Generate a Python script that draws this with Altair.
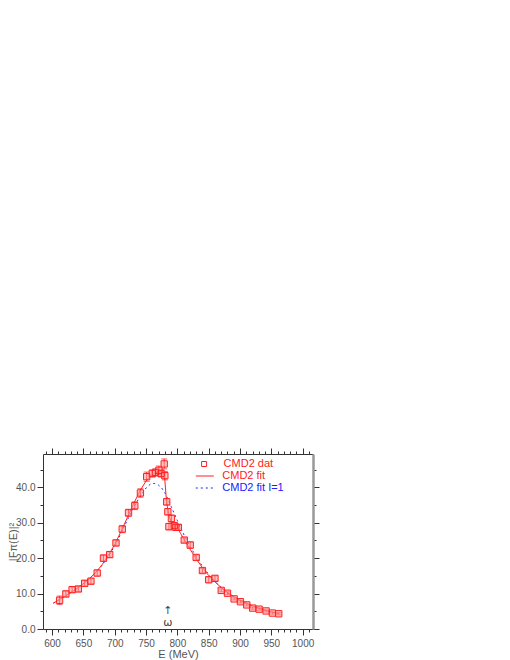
import altair as alt
import pandas as pd

# ---- data ----
E_dat = [612, 622, 632, 642, 652, 662, 672, 682, 692, 702, 712, 722, 732, 741, 751,
         760, 765, 770.5, 774, 779, 780, 783, 784.8, 786.5, 790.5, 795, 797.6, 801.5,
         811, 820.5, 830, 840, 850, 860, 870, 880, 890.6, 900.7, 910.8, 920.3, 930.4,
         941.6, 951.7, 961.8]
F_dat = [8.1, 9.9, 11.1, 11.3, 12.9, 13.5, 15.8, 20.0, 21.0, 24.3, 28.2, 32.8, 34.8,
         38.4, 43.0, 43.9, 44.2, 44.8, 43.9, 46.6, 43.3, 35.9, 33.1, 28.9, 31.2, 29.2,
         28.7, 28.7, 25.1, 23.7, 20.2, 16.5, 13.9, 14.3, 10.9, 10.1, 8.5, 7.7, 6.8, 5.9,
         5.6, 5.1, 4.5, 4.3]
F_err = [1.2, 0.8, 0.8, 0.7, 0.8, 0.7, 0.8, 0.9, 0.8, 0.8, 1.0, 1.0, 1.1, 1.2, 1.3,
         1.0, 1.0, 1.2, 1.0, 1.4, 1.2, 0.9, 0.9, 0.9, 1.0, 0.8, 0.7, 0.8, 0.6, 0.9,
         0.7, 0.6, 0.8, 0.7, 0.4, 0.4, 0.3, 0.3, 0.3, 0.3, 0.3, 0.3, 0.3, 0.3]

E_fit = [602, 610, 620, 630, 640, 650, 660, 670, 680, 690, 700, 710, 720, 730, 740,
         750, 757, 764, 770, 775, 778, 780, 782, 784, 787, 790, 795, 800, 805, 810,
         820, 830, 840, 850, 860, 870, 880, 890, 900, 910, 920, 930, 940, 950, 962]
F_fit = [7.3, 8.1, 9.2, 10.3, 11.5, 12.8, 14.3, 16.0, 18.2, 20.8, 23.9, 27.5, 31.4,
         35.3, 38.9, 41.8, 43.2, 44.0, 44.4, 44.5, 44.0, 42.0, 37.5, 34.5, 31.8, 30.3,
         29.3, 28.5, 27.0, 25.5, 22.6, 19.8, 17.3, 15.1, 13.3, 11.7, 10.3, 9.1, 8.1,
         7.3, 6.5, 5.9, 5.3, 4.8, 4.3]
E_iso = [602, 620, 640, 660, 680, 700, 720, 730, 740, 750, 757, 763, 770, 775, 780,
         785, 790, 795, 800, 810, 820, 830, 840, 850, 860, 870, 880, 890, 900, 910,
         920, 930, 940, 950, 962]
F_iso = [7.3, 9.2, 11.4, 14.2, 18.0, 23.4, 30.7, 34.2, 37.3, 39.8, 40.9, 41.1, 40.6,
         39.8, 38.5, 36.6, 34.6, 32.6, 30.6, 26.8, 23.4, 20.4, 17.7, 15.4, 13.4, 11.7,
         10.3, 9.1, 8.1, 7.3, 6.5, 5.9, 5.3, 4.8, 4.3]

series_names = ["CMD2 dat", "CMD2 fit", "CMD2 fit I=1"]
annot_E = [785, 785]
annot_F = [5.2, 1.8]
annot_txt = ["\u2191", "\u03c9"]

x_ticks = list(range(590, 1011, 10))
y_ticks = list(range(0, 50, 5))

RED = "#ff2020"
BLUE = "#2020ff"
GREY = "#555555"
FONT = "Liberation Sans Narrow, Liberation Sans, sans-serif"

dat = pd.DataFrame({"E": E_dat, "F": F_dat,
                    "lo": [f - e for f, e in zip(F_dat, F_err)],
                    "hi": [f + e for f, e in zip(F_dat, F_err)],
                    "series": series_names[0]})
fit = pd.DataFrame({"E": E_fit, "F": F_fit, "series": series_names[1]})
iso = pd.DataFrame({"E": E_iso, "F": F_iso, "series2": series_names[2]})
annot = pd.DataFrame({"E": annot_E, "F": annot_F, "t": annot_txt})

xs = alt.Scale(domain=[585.5, 1016.5], nice=False, zero=False)
ys = alt.Scale(domain=[0, 49.4], nice=False, zero=False)

tick_x = {"condition": {"test": "datum.value % 50 == 0", "value": 6}, "value": 3}
tick_y = {"condition": {"test": "datum.value % 10 == 0", "value": 6}, "value": 3}

common = dict(domainColor="#333333", tickColor="#333333", grid=False,
              labelFont=FONT, labelFontSize=10, labelColor=GREY,
              titleFont=FONT, titleFontSize=11, titleColor=GREY, labelOverlap=False,
              titleFontWeight="normal")

ax_bottom = alt.Axis(orient="bottom", values=x_ticks, tickSize=tick_x,
                     labelExpr="datum.value % 50 == 0 ? datum.label : ''",
                     format="d", title="E  (MeV)", labelPadding=3, titlePadding=0,
                     **common)
ax_left = alt.Axis(orient="left", values=y_ticks, tickSize=tick_y,
                   labelExpr="datum.value % 10 == 0 ? datum.label : ''",
                   format=".1f", title="|F\u03c0(E)|\u00b2", labelPadding=2,
                   titleX=-30, titleBaseline="middle", **common)
ax_top = alt.Axis(orient="top", values=x_ticks, tickSize=tick_x, labels=False,
                  title=None, domainColor="#333333", tickColor="#333333", grid=False)
ax_right = alt.Axis(orient="right", values=y_ticks, tickSize=tick_y, labels=False,
                    title=None, domainColor="#999999", domainWidth=2.5,
                    tickColor="#333333", grid=False)

leg_common = dict(orient="none", title=None, symbolType="stroke", symbolSize=324,
                  symbolStrokeWidth=1, labelFont=FONT, labelFontSize=11,
                  labelOffset=8, padding=0)

# CMD2 fit (carries the top/right axes)
fit_line = alt.Chart(fit).mark_line(strokeWidth=1).encode(
    x=alt.X("E:Q", scale=xs, axis=ax_top),
    y=alt.Y("F:Q", scale=ys, axis=ax_right),
    color=alt.Color("series:N", scale=alt.Scale(domain=series_names[1:2], range=[RED]),
                    legend=alt.Legend(legendX=152.3, legendY=12.5, labelColor=RED,
                                      **leg_common)),
)

# CMD2 fit I=1
iso_line = alt.Chart(iso).mark_line(strokeWidth=1, color=BLUE).encode(
    x=alt.X("E:Q", scale=xs, axis=None),
    y=alt.Y("F:Q", scale=ys, axis=None),
    strokeDash=alt.StrokeDash("series2:N", scale=alt.Scale(domain=series_names[2:],
                                                           range=[[2, 3]]),
                              legend=alt.Legend(legendX=152.3, legendY=24.5,
                                                labelColor=BLUE, symbolStrokeColor=BLUE,
                                                **leg_common)),
)

bars = alt.Chart(dat).mark_rule(color=RED, strokeWidth=1).encode(
    x=alt.X("E:Q", scale=xs, axis=None),
    y=alt.Y("lo:Q", scale=ys, axis=None),
    y2="hi:Q",
)
cap_lo = alt.Chart(dat).mark_tick(color=RED, orient="horizontal", size=6, thickness=1).encode(
    x=alt.X("E:Q", scale=xs, axis=None),
    y=alt.Y("lo:Q", scale=ys, axis=None),
)
cap_hi = alt.Chart(dat).mark_tick(color=RED, orient="horizontal", size=6, thickness=1).encode(
    x=alt.X("E:Q", scale=xs, axis=None),
    y=alt.Y("hi:Q", scale=ys, axis=None),
)

pts_fill = alt.Chart(dat).mark_square(size=36, color="#ff9a9a", opacity=0.6).encode(
    x=alt.X("E:Q", scale=xs, axis=None),
    y=alt.Y("F:Q", scale=ys, axis=None),
)

pts = alt.Chart(dat).mark_point(filled=False, color=RED, strokeWidth=1,
                                size=40, opacity=1).encode(
    x=alt.X("E:Q", scale=xs, axis=ax_bottom),
    y=alt.Y("F:Q", scale=ys, axis=ax_left),
    shape=alt.Shape("series:N", scale=alt.Scale(domain=series_names[:1], range=["square"]),
                    legend=alt.Legend(orient="none", legendX=155.6, legendY=4.5, title=None,
                                      symbolSize=25, symbolStrokeColor=RED,
                                      symbolFillColor="white", symbolStrokeWidth=1,
                                      labelFont=FONT, labelFontSize=11, labelOffset=14,
                                      labelColor=RED, padding=0)),
)

txt = alt.Chart(annot).mark_text(font="DejaVu Sans", fontSize=11, color="#444444").encode(
    x=alt.X("E:Q", scale=xs, axis=None),
    y=alt.Y("F:Q", scale=ys, axis=None),
    text="t:N",
)

chart = alt.layer(iso_line, fit_line, bars, cap_lo, cap_hi, pts_fill, pts, txt).resolve_legend(
    shape="independent", color="independent", strokeDash="independent"
).properties(
    width=270, height=175,
    autosize=alt.AutoSizeParams(type="none"),
    padding={"left": 35, "top": 446, "right": 30, "bottom": 42},
).configure_view(stroke=None)

chart.save("out.html", embed_options={"renderer": "svg", "actions": False})
